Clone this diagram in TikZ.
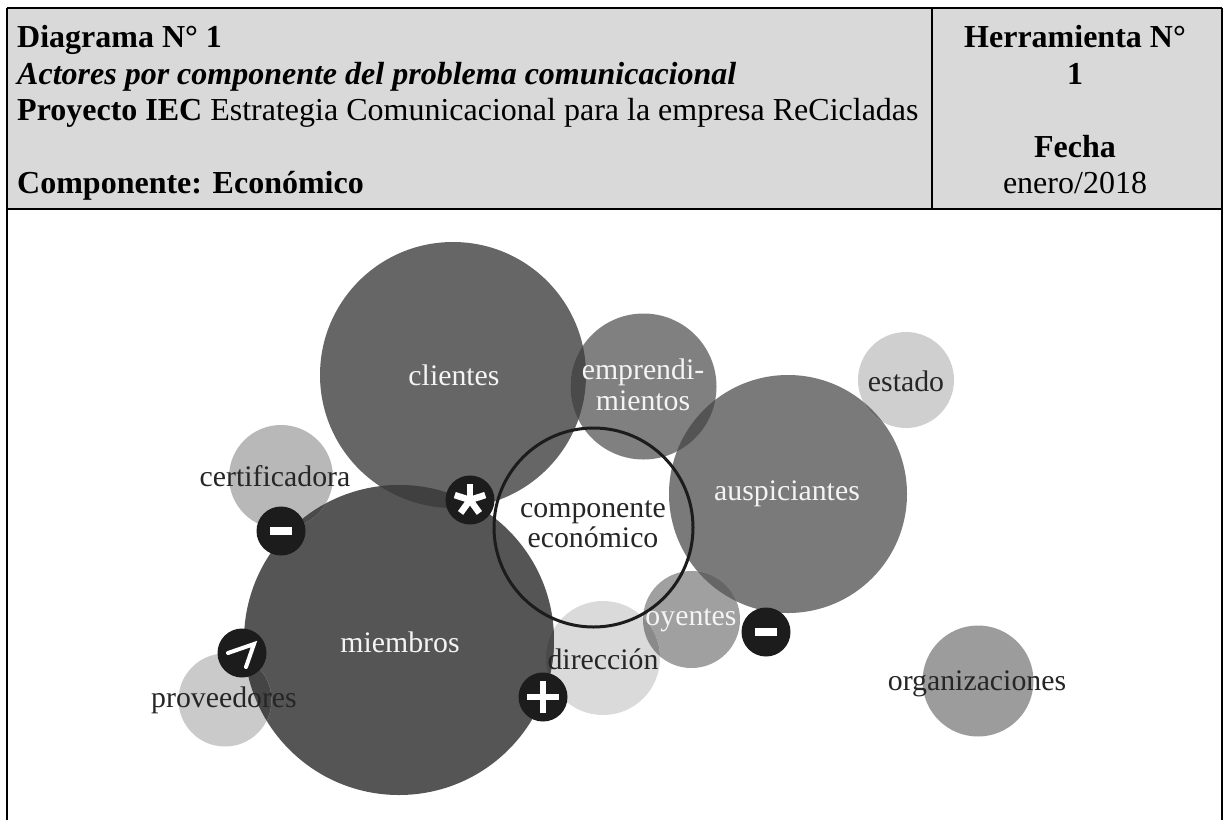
\documentclass[tikz,border=0pt]{standalone}
\usepackage{fontspec}
\setmainfont{Liberation Serif}
\definecolor{badgeblack}{HTML}{1C1C1C}
\definecolor{hdr}{HTML}{D9D9D9}
\definecolor{txtw}{HTML}{F4F4F4}
\definecolor{txtd}{HTML}{262626}
\definecolor{cClientes}{HTML}{666666}
\definecolor{cMiembros}{HTML}{555555}
\definecolor{cEmprendi}{HTML}{808080}
\definecolor{cAusp}{HTML}{7A7A7A}
\definecolor{cOyentes}{HTML}{A0A0A0}
\definecolor{cDir}{HTML}{DADADA}
\definecolor{cCert}{HTML}{B8B8B8}
\definecolor{cProv}{HTML}{CACACA}
\definecolor{cEstado}{HTML}{CFCFCF}
\definecolor{cOrg}{HTML}{9C9C9C}
\tikzset{
  x=1pt,y=-1pt,
  bub/.style={circle,inner sep=0pt,outer sep=0pt,minimum size=#1},
  badge/.style={circle,fill=badgeblack,inner sep=0pt,minimum size=49pt},
  lab/.style={font=\fontsize{29.8}{30}\selectfont,anchor=base,inner sep=0pt},
  labw/.style={lab,text=txtw},
  labd/.style={lab,text=txtd},
  frameline/.style={line width=2pt,black},
  icon/.style={white,line width=5pt},
  head/.style={font=\fontsize{32}{32}\selectfont,anchor=base west,inner sep=0pt},
  headc/.style={font=\fontsize{32}{32}\selectfont,anchor=base,inner sep=0pt}
}
\newcommand{\ovl}[5]{\begin{scope}\clip (#1.center) circle (#2pt);\fill[#5] (#3.center) circle (#4pt);\end{scope}}
\begin{document}
\begin{tikzpicture}
\useasboundingbox (0,0) rectangle (1224,820);
\fill[white] (0,0) rectangle (1224,820);
% header
\fill[hdr] (7,8) rectangle (1222,209);
\coordinate (tl) at (7,8);\coordinate (tr) at (1222,8);
\coordinate (bl) at (7,820);\coordinate (br) at (1222,820);
\coordinate (ml) at (7,209);\coordinate (mr) at (1222,209);
\coordinate (dt) at (932,8);\coordinate (db) at (932,209);
\draw[frameline] (tl) -- (tr);
\draw[frameline] (tl) -- (bl);
\draw[frameline] (tr) -- (br);
\draw[frameline] (ml) -- (mr);
\draw[frameline] (dt) -- (db);
\node[head] (h1) at (17,47) {\bfseries Diagrama N° 1};
\node[head] (h2) at (17,84) {\itshape\bfseries Actores por componente del problema comunicacional};
\node[head] (h3) at (17,120) {\textbf{Proyecto IEC} Estrategia Comunicacional para la empresa ReCicladas};
\node[head] (h4) at (17,193) {\bfseries Componente: Económico};
\node[headc] (r1) at (1075,47) {\bfseries Herramienta N°};
\node[headc] (r2) at (1075,84) {\bfseries 1};
\node[headc] (r3) at (1075,157) {\bfseries Fecha};
\node[headc] (r4) at (1075,193) {enero/2018};
% bubbles
\node[bub=266pt,fill=cClientes] (clientes) at (453,375) {};
\node[bub=146pt,fill=cEmprendi] (emprendi) at (643.5,386.5) {};
\node[bub=238pt,fill=cAusp] (ausp) at (788,494) {};
\node[bub=97pt,fill=cOyentes] (oyentes) at (691.5,619.5) {};
\node[bub=114pt,fill=cDir] (dir) at (603,658) {};
\node[bub=310pt,fill=cMiembros] (miembros) at (399,640) {};
\node[bub=104pt,fill=cCert] (cert) at (281,477) {};
\node[bub=93pt,fill=cProv] (prov) at (225,700) {};
\node[bub=96pt,fill=cEstado] (estado) at (906,380) {};
\node[bub=111pt,fill=cOrg] (org) at (978,681) {};
% overlaps
\ovl{clientes}{133}{miembros}{155}{black!75}
\ovl{clientes}{133}{emprendi}{73}{black!71}
\ovl{emprendi}{73}{ausp}{119}{black!67}
\ovl{ausp}{119}{oyentes}{48.5}{black!60}
\ovl{ausp}{119}{estado}{48}{black!57}
\ovl{oyentes}{48.5}{dir}{57}{black!46}
\ovl{miembros}{155}{dir}{57}{black!71}
\ovl{miembros}{155}{prov}{46.5}{black!73}
\ovl{miembros}{155}{cert}{52}{black!71}
% component ring
\node[bub=199pt,draw=badgeblack,line width=3pt] (comp) at (593.5,527.5) {};
% labels
\node[labw] (lcl) at (454,385) {clientes};
\node[labw] (lem) at (643,379) {emprendi-};
\node[labw] (lmi) at (643,410) {mientos};
\node[labw] (lau) at (787,500) {auspiciantes};
\node[labd] (lce) at (275,486) {certificadora};
\node[labd] (lc1) at (593,517) {componente};
\node[labd] (lc2) at (593,547) {económico};
\node[labw] (lmb) at (400,652) {miembros};
\node[labw] (loy) at (691,625) {oyentes};
\node[labd] (ldi) at (603,669) {dirección};
\node[labd] (lpr) at (224,707) {proveedores};
\node[labd] (les) at (906,391) {estado};
\node[labd] (lor) at (977,690) {organizaciones};
% badges
\node[badge] (bm1) at (281,531) {};
\fill[white] ([shift={(-11,-4)}]bm1.center) rectangle ([shift={(11,4)}]bm1.center);
\node[badge] (bm2) at (766,632) {};
\fill[white] ([shift={(-11,-4)}]bm2.center) rectangle ([shift={(11,4)}]bm2.center);
\node[badge] (bp) at (543,697) {};
\draw[icon,line width=6pt] ([shift={(-16,0)}]bp.center) -- ([shift={(16,0)}]bp.center);
\draw[icon,line width=6pt] ([shift={(0,-16)}]bp.center) -- ([shift={(0,16)}]bp.center);
\node[badge] (ba) at (242,653) {};
\draw[icon,line width=4pt,line cap=round,line join=miter]
  ([shift={(-14,0)}]ba.center) -- ([shift={(12,-9)}]ba.center) -- ([shift={(4,14)}]ba.center);
\node[badge] (bs) at (470,500) {};
\foreach \ang in {-90,-18,54,126,198}{
  \draw[icon,line width=6.5pt] (bs.center) -- ([shift={(\ang:16)}]bs.center);
}
\end{tikzpicture}
\end{document}
